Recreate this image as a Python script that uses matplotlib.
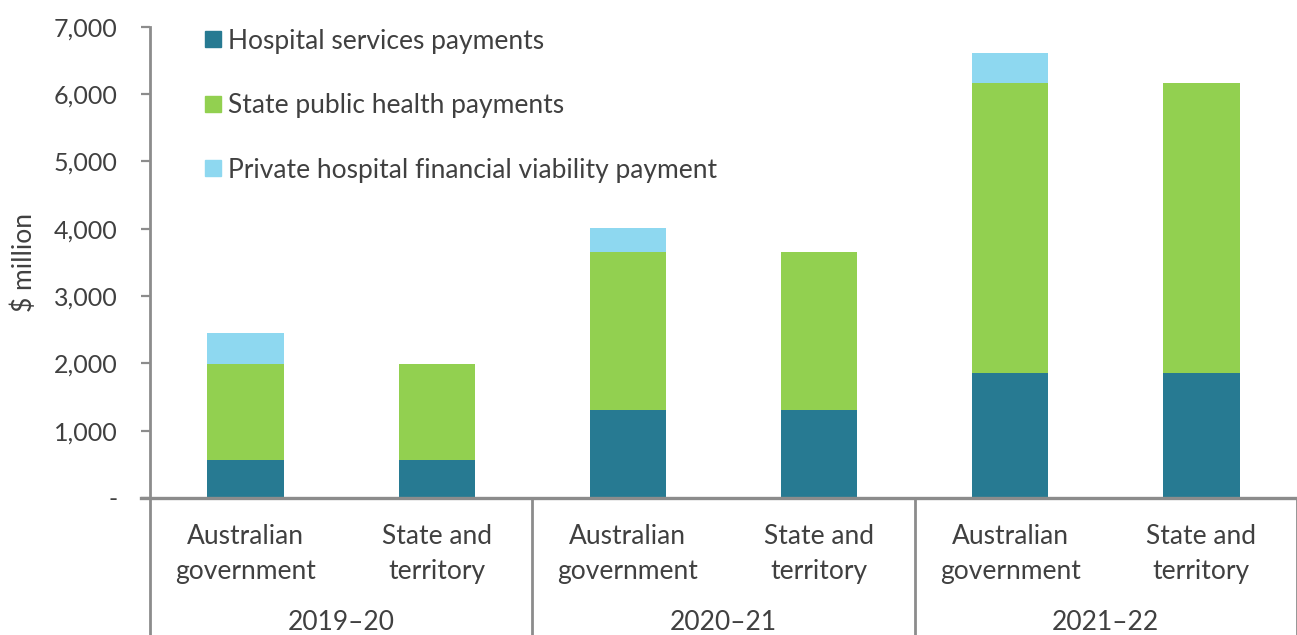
import matplotlib.pyplot as plt
from matplotlib.lines import Line2D
import matplotlib.transforms as mtransforms

plt.rcParams['font.family'] = ['Lato', 'DejaVu Sans']

years = ['2019–20', '2020–21', '2021–22']
sectors = ['Australian\ngovernment', 'State and\nterritory']
hospital = [560, 560, 1307, 1307, 1861, 1861]
state_health = [1426, 1426, 2342, 2342, 4307, 4307]
private_viability = [469, 0, 361, 0, 446, 0]
series_names = ['Hospital services payments', 'State public health payments',
                'Private hospital financial viability payment']
colors = ['#277A92', '#92D050', '#8ED8F0']

text_col = '#404040'
axis_col = '#8C8C8C'

fig = plt.figure(figsize=(12.97, 6.35), dpi=100)
ax = fig.add_axes([150 / 1297, (635 - 498) / 635, 1 - 150 / 1297, (498 - 26.7) / 635])

x = list(range(len(hospital)))
w = 0.4
ax.bar(x, hospital, w, color=colors[0], zorder=2)
ax.bar(x, state_health, w, bottom=hospital, color=colors[1], zorder=2)
bottom2 = [a + b for a, b in zip(hospital, state_health)]
ax.bar(x, private_viability, w, bottom=bottom2, color=colors[2], zorder=2)

ax.set_xlim(-0.5, 5.5)
ax.set_ylim(0, 7000)
ax.set_yticks(range(0, 7001, 1000))
ax.set_yticklabels(['-'] + [f'{v:,}' for v in range(1000, 7001, 1000)])
ax.tick_params(axis='y', labelsize=18, colors=axis_col, labelcolor=text_col,
               length=6.5, width=1.6, pad=17)
ax.set_xticks([])
ax.set_ylabel('$ million', fontsize=19, color=text_col)
ax.yaxis.set_label_coords(-113 / 1147, 0.5)

for s in ['top', 'right', 'bottom']:
    ax.spines[s].set_visible(False)
ax.spines['left'].set_color(axis_col)
ax.spines['left'].set_linewidth(2)

# horizontal axis line, extending past the y axis like Excel
ax_w_px = 1297 - 150
ax.add_line(Line2D([-9 / ax_w_px, 1], [0, 0], transform=ax.transAxes,
                   color=axis_col, lw=2.4, clip_on=False, zorder=3))

# group separators running below the axis
ax_h_px = 498 - 26.7
bottom_frac = -(635 - 498) / ax_h_px
trans = mtransforms.blended_transform_factory(ax.transData, ax.transAxes)
for sx in [-0.5, 1.5, 3.5, 5.5]:
    ax.add_line(Line2D([sx, sx], [bottom_frac, 0], transform=trans,
                       color=axis_col, lw=2, clip_on=False))

# category labels
for i in x:
    ax.text(i, -(553.5 - 498) / ax_h_px, sectors[i % 2], transform=trans,
            ha='center', va='center', fontsize=19, color=text_col,
            linespacing=1.5)
for g, yr in enumerate(years):
    ax.text(2 * g + 0.5, -(623 - 498) / ax_h_px, yr, transform=trans,
            ha='center', va='center', fontsize=19, color=text_col)

# legend
handles = [Line2D([], [], marker='s', linestyle='none', markersize=11,
                  markerfacecolor=c, markeredgecolor=c) for c in colors]
leg = ax.legend(handles, series_names, loc='upper left', frameon=False,
                bbox_to_anchor=(192 / 1297, 1 - 18 / 635), bbox_transform=fig.transFigure,
                fontsize=19, labelspacing=1.5, handletextpad=0.15,
                handlelength=0.8, borderaxespad=0)
for t in leg.get_texts():
    t.set_color(text_col)

fig.savefig('out.png', dpi=100)
